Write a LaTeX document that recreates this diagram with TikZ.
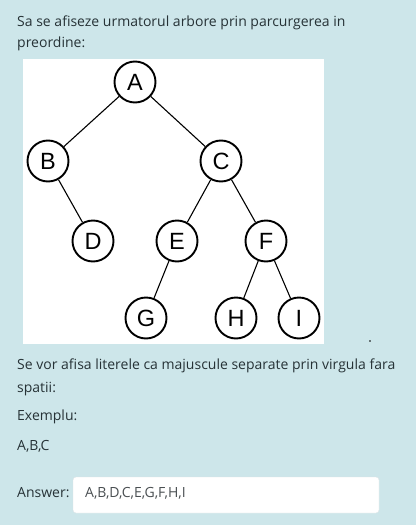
\documentclass[tikz,border=0pt]{standalone}
\usepackage{fontspec}
\setmainfont{Open Sans}
\newfontfamily\treefont{Liberation Sans}
\definecolor{bg}{HTML}{CDE6EA}
\definecolor{txt}{HTML}{263236}
\definecolor{anstxt}{HTML}{4A4F52}
\definecolor{boxline}{HTML}{DDE4E6}
\begin{document}
\begin{tikzpicture}[x=1pt,y=-1pt,
  nd/.style={circle, draw, line width=1.9pt, minimum size=41pt, inner sep=0pt, fill=white, font=\treefont\fontsize{23.5}{23.5}\selectfont},
  ed/.style={line width=1.1pt},
  body/.style={anchor=base west, inner sep=0pt, text=txt, font=\fontsize{14}{17}\selectfont}]
\fill[bg] (0,0) rectangle (416,525);
\useasboundingbox (0,0) rectangle (416,525);
% text above
\node[body] (t1) at (17,26) {Sa se afiseze urmatorul arbore prin parcurgerea in};
\node[body] (t2) at (17,47) {preordine:};
% tree panel
\fill[white] (23,59) rectangle (324,344);
\node[nd] (A) at (135,82) {A};
\node[nd] (B) at (48,161) {B};
\node[nd] (C) at (221,161) {C};
\node[nd] (D) at (93,241) {D};
\node[nd] (E) at (177,241) {E};
\node[nd] (F) at (266,241) {F};
\node[nd] (G) at (146,318) {G};
\node[nd] (H) at (236,318) {H};
\node[nd] (I) at (299,318) {I};
\draw[ed] (A) -- (B);
\draw[ed] (A) -- (C);
\draw[ed] (B) -- (D);
\draw[ed] (C) -- (E);
\draw[ed] (C) -- (F);
\draw[ed] (E) -- (G);
\draw[ed] (F) -- (H);
\draw[ed] (F) -- (I);
\fill[black] (370,341) circle (0.8);
% text below
\node[body] (t3) at (17,369) {Se vor afisa literele ca majuscule separate prin virgula fara};
\node[body] (t4) at (17,392) {spatii:};
\node[body] (t5) at (17,420) {Exemplu:};
\node[body] (t6) at (17,450) {A,B,C};
% answer
\node[body] (ans) at (17,497) {Answer:};
\draw[boxline, fill=white, rounded corners=3pt] (73,477) rectangle (379,513);
\node[body, text=anstxt] (val) at (85,497) {A,B,D,C,E,G,F,H,I};
\end{tikzpicture}
\end{document}
